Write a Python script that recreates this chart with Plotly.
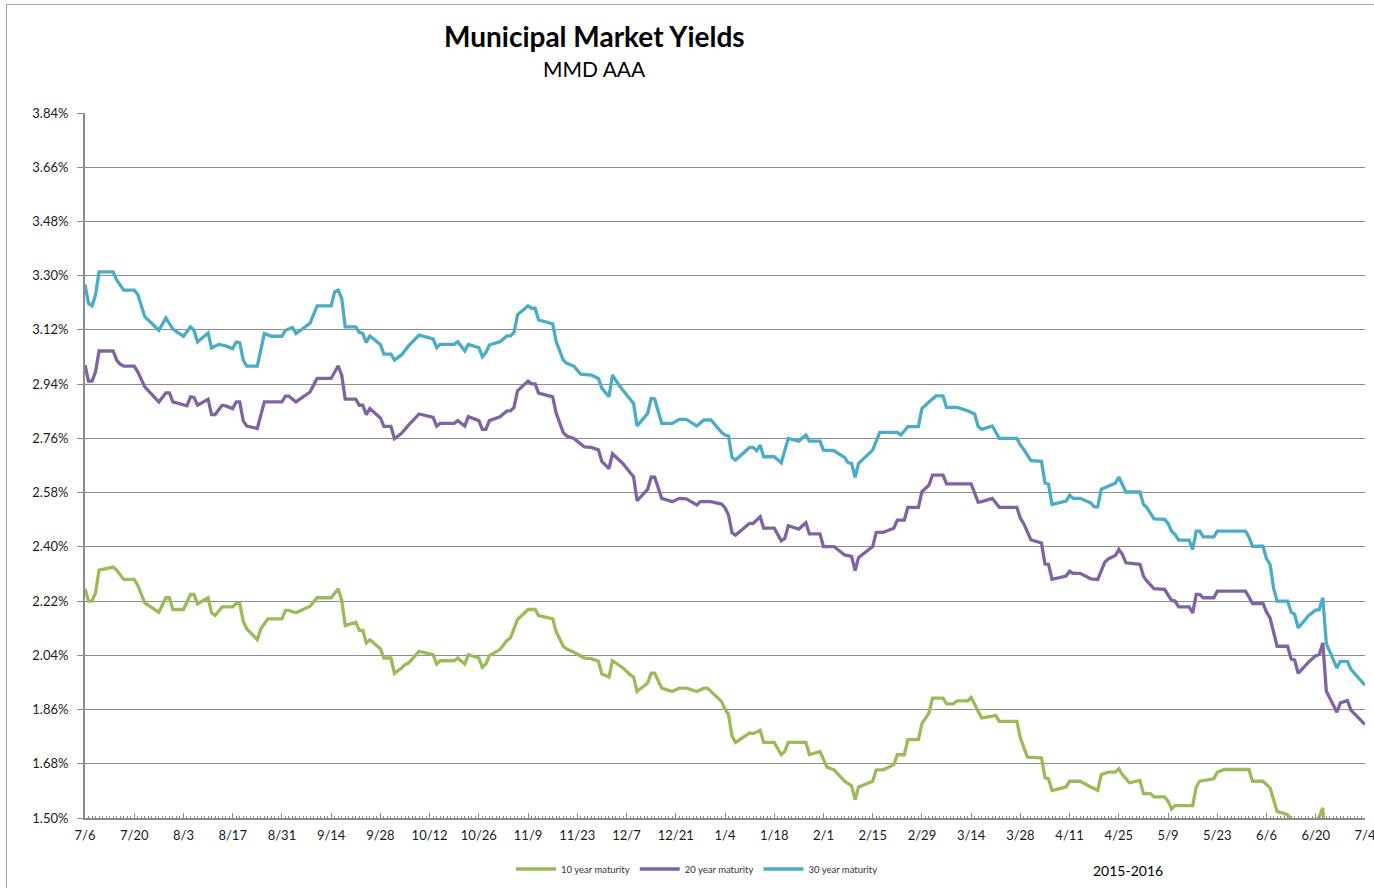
import pandas as pd
import plotly.graph_objects as go

START = "2015-07-06"

# --- 10 year maturity (days after 7/6/2015, yield %) ---
days10 = [0, 1, 2, 3, 4, 8, 9, 10, 11, 14, 15, 17, 21, 23, 24, 25, 28, 30, 31, 32,
          35, 36, 37, 39, 42, 43, 44, 45, 46, 49, 50, 52, 56, 57, 58, 60, 64, 66, 70, 72,
          73, 74, 77, 78, 79, 80, 81, 84, 85, 87, 88, 90, 91, 92, 93, 95, 99, 100, 101, 105,
          106, 108, 109, 112, 113, 114, 115, 118, 120, 121, 123, 126, 128, 129, 133, 134, 136, 137, 139, 142,
          144, 146, 147, 149, 150, 153, 155, 156, 157, 160, 161, 162, 164, 167, 169, 171, 174, 176, 177, 181,
          182, 183, 184, 185, 189, 190, 192, 193, 196, 198, 199, 200, 205, 206, 209, 211, 213, 216, 218, 219,
          220, 224, 225, 227, 230, 231, 233, 234, 237, 238, 240, 241, 244, 245, 247, 248, 251, 252, 254, 255,
          259, 260, 265, 266, 268, 272, 273, 274, 275, 279, 280, 283, 286, 288, 289, 291, 293, 294, 295, 297,
          300, 301, 303, 304, 307, 308, 309, 310, 315, 316, 317, 321, 322, 324, 331, 332, 335, 337, 339, 342,
          343, 345, 348, 350, 351, 352, 353, 354, 356, 357, 359, 360, 364]
y10 = [2.261, 2.22, 2.22, 2.248, 2.323, 2.333, 2.323, 2.309, 2.292, 2.292, 2.272, 2.214, 2.183, 2.231, 2.231, 2.192, 2.192, 2.242, 2.242, 2.211,
       2.231, 2.181, 2.172, 2.201, 2.201, 2.212, 2.212, 2.153, 2.128, 2.092, 2.128, 2.161, 2.161, 2.189, 2.189, 2.181, 2.203, 2.231, 2.231, 2.261,
       2.223, 2.139, 2.15, 2.123, 2.123, 2.081, 2.092, 2.062, 2.031, 2.031, 1.98, 1.998, 2.009, 2.014, 2.028, 2.053, 2.042, 2.011, 2.022, 2.022,
       2.031, 2.011, 2.042, 2.031, 2.0, 2.011, 2.039, 2.059, 2.089, 2.098, 2.159, 2.192, 2.192, 2.172, 2.161, 2.118, 2.07, 2.061, 2.05, 2.031,
       2.029, 2.02, 1.978, 1.968, 2.022, 1.998, 1.976, 1.968, 1.92, 1.948, 1.981, 1.981, 1.931, 1.92, 1.931, 1.931, 1.92, 1.931, 1.931, 1.887,
       1.862, 1.843, 1.771, 1.751, 1.782, 1.78, 1.791, 1.751, 1.751, 1.71, 1.721, 1.751, 1.751, 1.71, 1.721, 1.669, 1.66, 1.622, 1.607, 1.561,
       1.603, 1.622, 1.66, 1.66, 1.677, 1.71, 1.71, 1.76, 1.76, 1.813, 1.848, 1.898, 1.898, 1.879, 1.879, 1.889, 1.889, 1.9, 1.854, 1.832,
       1.84, 1.821, 1.821, 1.765, 1.702, 1.70, 1.634, 1.63, 1.591, 1.603, 1.622, 1.622, 1.603, 1.592, 1.644, 1.652, 1.652, 1.663, 1.644, 1.617,
       1.625, 1.581, 1.581, 1.57, 1.57, 1.556, 1.53, 1.541, 1.541, 1.603, 1.622, 1.63, 1.652, 1.661, 1.661, 1.622, 1.622, 1.60, 1.522, 1.511,
       1.495, 1.45, 1.47, 1.48, 1.505, 1.534, 1.37, 1.35, 1.30, 1.33, 1.34, 1.31, 1.26]

# --- 20 year maturity ---
days20 = [0, 1, 2, 3, 4, 8, 9, 10, 11, 14, 15, 17, 21, 23, 24, 25, 29, 30, 31, 32,
          35, 36, 37, 39, 40, 42, 43, 44, 45, 46, 49, 51, 56, 57, 58, 60, 64, 66, 70, 72,
          73, 74, 77, 78, 79, 80, 81, 84, 85, 87, 88, 90, 92, 95, 99, 100, 101, 105, 106, 108,
          109, 112, 113, 114, 115, 118, 120, 121, 122, 123, 126, 127, 128, 129, 133, 134, 136, 137, 139, 142,
          144, 146, 147, 149, 150, 153, 155, 156, 157, 160, 161, 162, 164, 167, 169, 171, 174, 175, 178, 181,
          182, 183, 184, 185, 189, 190, 192, 193, 196, 198, 199, 200, 203, 205, 206, 209, 210, 213, 216, 218,
          219, 220, 224, 225, 227, 230, 231, 233, 234, 237, 238, 240, 241, 244, 245, 252, 254, 255, 258, 260,
          265, 266, 267, 269, 272, 273, 274, 275, 279, 280, 281, 283, 286, 288, 290, 291, 293, 294, 295, 296,
          300, 301, 302, 304, 307, 308, 309, 310, 311, 314, 315, 316, 317, 318, 321, 322, 330, 331, 332, 335,
          336, 337, 339, 342, 343, 344, 345, 348, 350, 351, 352, 353, 354, 356, 357, 359, 360, 364]
y20 = [3.003, 2.95, 2.95, 2.981, 3.05, 3.05, 3.02, 3.006, 3.0, 3.0, 2.981, 2.931, 2.881, 2.911, 2.911, 2.881, 2.868, 2.898, 2.896, 2.87,
       2.89, 2.839, 2.839, 2.87, 2.868, 2.859, 2.881, 2.881, 2.818, 2.801, 2.793, 2.881, 2.881, 2.9, 2.9, 2.881, 2.914, 2.959, 2.959, 3.001,
       2.97, 2.89, 2.89, 2.87, 2.87, 2.839, 2.859, 2.828, 2.8, 2.8, 2.759, 2.777, 2.804, 2.841, 2.83, 2.801, 2.81, 2.81, 2.819, 2.801,
       2.832, 2.819, 2.79, 2.79, 2.819, 2.832, 2.851, 2.851, 2.863, 2.918, 2.95, 2.941, 2.941, 2.91, 2.898, 2.843, 2.779, 2.768, 2.76, 2.732,
       2.73, 2.722, 2.683, 2.66, 2.709, 2.676, 2.647, 2.633, 2.553, 2.591, 2.631, 2.631, 2.561, 2.55, 2.561, 2.559, 2.539, 2.55, 2.55, 2.542,
       2.53, 2.506, 2.447, 2.439, 2.478, 2.478, 2.5, 2.462, 2.462, 2.42, 2.428, 2.47, 2.459, 2.48, 2.443, 2.443, 2.401, 2.401, 2.373, 2.368,
       2.321, 2.365, 2.401, 2.448, 2.448, 2.462, 2.489, 2.489, 2.531, 2.531, 2.583, 2.605, 2.638, 2.638, 2.609, 2.609, 2.548, 2.55, 2.561, 2.531,
       2.531, 2.495, 2.476, 2.423, 2.413, 2.343, 2.342, 2.292, 2.303, 2.319, 2.312, 2.312, 2.294, 2.292, 2.349, 2.36, 2.371, 2.391, 2.375, 2.347,
       2.342, 2.303, 2.286, 2.261, 2.259, 2.242, 2.222, 2.22, 2.201, 2.201, 2.181, 2.242, 2.242, 2.231, 2.231, 2.253, 2.253, 2.234, 2.212, 2.212,
       2.183, 2.164, 2.07, 2.07, 2.028, 2.024, 1.98, 2.018, 2.039, 2.043, 2.081, 1.921, 1.899, 1.851, 1.882, 1.89, 1.858, 1.81]

# --- 30 year maturity ---
days30 = [0, 1, 2, 3, 4, 8, 9, 10, 11, 14, 15, 17, 21, 23, 25, 28, 30, 31, 32, 35,
          36, 38, 40, 42, 43, 44, 45, 46, 49, 51, 53, 56, 57, 59, 60, 64, 66, 70, 71, 72,
          73, 74, 77, 78, 79, 80, 81, 84, 85, 87, 88, 90, 92, 95, 99, 100, 101, 105, 106, 108,
          109, 112, 113, 114, 115, 118, 120, 121, 122, 123, 126, 127, 128, 129, 133, 134, 136, 137, 139, 141,
          144, 146, 147, 149, 150, 152, 155, 156, 157, 160, 161, 162, 164, 167, 169, 171, 174, 176, 178, 181,
          182, 183, 184, 185, 189, 190, 191, 192, 193, 196, 198, 200, 203, 205, 206, 209, 210, 213, 216, 217,
          218, 219, 220, 224, 226, 231, 232, 234, 237, 238, 240, 242, 244, 245, 248, 251, 253, 254, 255, 258,
          260, 265, 266, 267, 269, 272, 273, 274, 275, 279, 280, 281, 283, 286, 287, 288, 289, 291, 293, 294,
          295, 296, 300, 301, 302, 304, 307, 308, 309, 310, 311, 314, 315, 316, 317, 318, 321, 322, 330, 331,
          332, 335, 336, 337, 338, 339, 342, 343, 344, 345, 348, 350, 351, 352, 353, 354, 356, 357, 359, 360,
          364]
y30 = [3.271, 3.208, 3.20, 3.236, 3.313, 3.313, 3.286, 3.27, 3.252, 3.252, 3.238, 3.164, 3.119, 3.16, 3.123, 3.099, 3.13, 3.119, 3.08, 3.11,
       3.06, 3.072, 3.067, 3.058, 3.08, 3.078, 3.02, 3.0, 3.0, 3.108, 3.099, 3.099, 3.119, 3.128, 3.108, 3.142, 3.20, 3.20, 3.247, 3.252,
       3.225, 3.13, 3.13, 3.112, 3.108, 3.078, 3.10, 3.072, 3.04, 3.04, 3.02, 3.037, 3.067, 3.103, 3.09, 3.061, 3.072, 3.072, 3.081, 3.05,
       3.072, 3.061, 3.031, 3.045, 3.07, 3.081, 3.10, 3.10, 3.112, 3.17, 3.20, 3.192, 3.192, 3.153, 3.14, 3.081, 3.02, 3.009, 3.0, 2.973,
       2.97, 2.959, 2.926, 2.898, 2.97, 2.934, 2.89, 2.876, 2.801, 2.843, 2.893, 2.891, 2.81, 2.81, 2.823, 2.823, 2.801, 2.821, 2.821, 2.78,
       2.771, 2.768, 2.697, 2.688, 2.73, 2.73, 2.719, 2.738, 2.699, 2.699, 2.679, 2.76, 2.751, 2.771, 2.751, 2.751, 2.721, 2.719, 2.697, 2.679,
       2.677, 2.631, 2.677, 2.721, 2.78, 2.78, 2.771, 2.799, 2.799, 2.859, 2.881, 2.901, 2.901, 2.863, 2.863, 2.852, 2.841, 2.799, 2.79, 2.801,
       2.76, 2.76, 2.738, 2.723, 2.686, 2.684, 2.612, 2.608, 2.541, 2.552, 2.571, 2.561, 2.561, 2.546, 2.533, 2.533, 2.591, 2.602, 2.611, 2.632,
       2.607, 2.582, 2.582, 2.541, 2.53, 2.493, 2.491, 2.478, 2.452, 2.441, 2.422, 2.422, 2.391, 2.452, 2.452, 2.433, 2.433, 2.452, 2.452, 2.433,
       2.402, 2.402, 2.36, 2.342, 2.264, 2.22, 2.22, 2.183, 2.176, 2.131, 2.172, 2.19, 2.192, 2.231, 2.079, 2.054, 1.998, 2.02, 2.02, 1.993,
       1.941]

SERIES = [
    ("10 year maturity", days10, y10, "#9BBB59"),
    ("20 year maturity", days20, y20, "#8064A2"),
    ("30 year maturity", days30, y30, "#4BACC6"),
]

Y_TICKS = [1.50, 1.68, 1.86, 2.04, 2.22, 2.40, 2.58, 2.76, 2.94, 3.12, 3.30, 3.48, 3.66, 3.84]

FONT = "Lato, 'Open Sans', sans-serif"
GRID = "#8C8C8C"

# Figure fills the whole 1374x888 window (page margin removed below).
OFF = 0
W, H = 1374, 888
L, R, T, B = 85, 9, 113, 70
pw, ph = W - L - R, H - T - B


def px(page_x):
    return (page_x - OFF - L) / pw


def py(page_y):
    return (H - B - (page_y - OFF)) / ph


start = pd.Timestamp(START)
fig = go.Figure()
for name, d, v, c in SERIES:
    x = start + pd.to_timedelta(d, unit="D")
    fig.add_trace(go.Scatter(x=x, y=v, mode="lines", name=name,
                             line=dict(color=c, width=3.3)))

fig.update_layout(
    width=W, height=H,
    margin=dict(l=L, r=R, t=T, b=B, autoexpand=False),
    paper_bgcolor="white", plot_bgcolor="white",
    font=dict(family=FONT, color="#1a1a1a", size=13),
    showlegend=True,
    legend=dict(orientation="h", x=px(697), xanchor="center",
                y=py(869), yanchor="middle",
                font=dict(size=9.5, family=FONT, color="#333"),
                itemwidth=40, tracegroupgap=0, bgcolor="rgba(0,0,0,0)"),
    annotations=[
        dict(text="<b>Municipal Market Yields</b>", x=px(594), y=py(36),
             xref="paper", yref="paper", showarrow=False, xanchor="center", yanchor="middle",
             font=dict(size=28, family=FONT, color="#000")),
        dict(text="MMD AAA", x=px(594), y=py(69),
             xref="paper", yref="paper", showarrow=False, xanchor="center", yanchor="middle",
             font=dict(size=21, family=FONT, color="#000")),
        dict(text="2015-2016", x=px(1128), y=py(870),
             xref="paper", yref="paper", showarrow=False, xanchor="center", yanchor="middle",
             font=dict(size=14, family=FONT, color="#000")),
    ],
    shapes=[
        dict(type="line", xref="paper", yref="paper",
             x0=px(6.5), x1=px(1380), y0=py(4.5), y1=py(4.5),
             line=dict(color="#A6A6A6", width=1)),
        dict(type="line", xref="paper", yref="paper",
             x0=px(6.5), x1=px(6.5), y0=py(4.5), y1=py(900),
             line=dict(color="#A6A6A6", width=1)),
    ],
)

fig.update_xaxes(
    type="date",
    range=[start, start + pd.Timedelta(days=364, minutes=1)],
    tick0=START, dtick=14 * 86400000, tickformat="%-m/%-d",
    ticks="inside", ticklen=5, tickcolor=GRID, tickwidth=1,
    minor=dict(dtick=86400000, ticks="inside", ticklen=2, tickcolor=GRID, showgrid=False),
    showline=True, linecolor=GRID, linewidth=2,
    showgrid=False, zeroline=False,
    tickfont=dict(size=13, family=FONT, color="#1a1a1a"),
    ticklabelstandoff=4, ticklabeloverflow="allow",
)
fig.update_yaxes(
    range=[1.50, 3.84],
    tickmode="array", tickvals=Y_TICKS, ticktext=[f"{v:.2f}%" for v in Y_TICKS],
    ticks="outside", ticklen=6, tickcolor=GRID, tickwidth=1,
    showline=True, linecolor=GRID, linewidth=2,
    showgrid=True, gridcolor=GRID, gridwidth=1, zeroline=False,
    tickfont=dict(size=13, family=FONT, color="#1a1a1a"),
    ticklabelstandoff=6,
)

fig.write_html("out.html",
               config={"displayModeBar": False},
               post_script="document.body.style.margin='0';document.body.style.overflow='hidden';")
